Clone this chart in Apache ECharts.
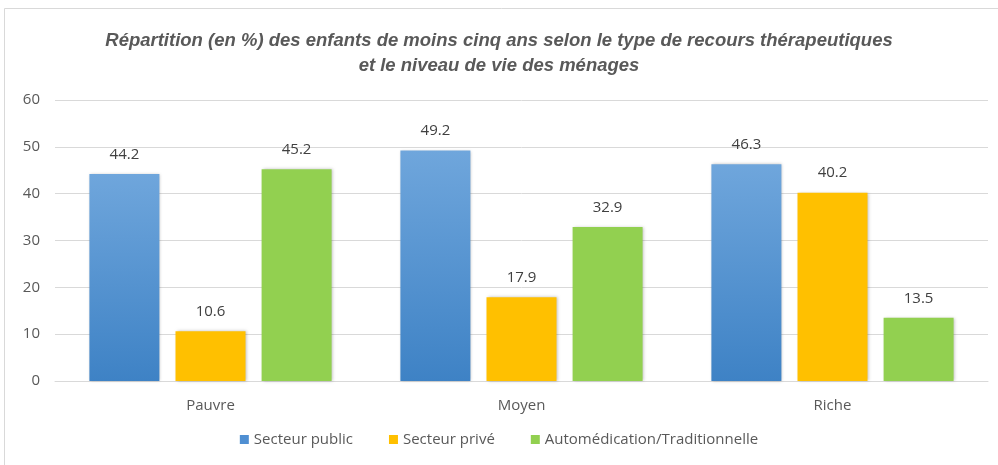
<!DOCTYPE html>
<html>
<head>
<meta charset="utf-8">
<script src="https://cdn.jsdelivr.net/npm/echarts@6/dist/echarts.min.js"></script>
<style>
  html, body { margin: 0; padding: 0; background: #fff; }
  #chart { width: 998px; height: 465px; }
</style>
</head>
<body>
<div id="chart"></div>
<script>
// niveaux de vie
const categories = ['Pauvre', 'Moyen', 'Riche'];
const seriesNames = ['Secteur public', 'Secteur privé', 'Automédication/Traditionnelle'];
const secteurPublic = [44.2, 49.2, 46.3];
const secteurPrive = [10.6, 17.9, 40.2];
const automedication = [45.2, 32.9, 13.5];
const yTicks = [0, 10, 20, 30, 40, 50, 60];

const chart = echarts.init(document.getElementById('chart'));

const blue = new echarts.graphic.LinearGradient(0, 0, 0, 1, [
  { offset: 0, color: '#6fa6dc' },
  { offset: 1, color: '#3e82c5' }
]);

const labelStyle = {
  show: true,
  position: 'top',
  distance: 12,
  color: '#404040',
  fontSize: 15,
  fontFamily: 'Open Sans',
  formatter: p => p.value.toFixed(1)
};

function bar(name, data, color) {
  return {
    name: name,
    type: 'bar',
    data: data,
    barWidth: 70,
    barGap: '23%',
    itemStyle: {
      color: color,
      shadowColor: 'rgba(0,0,0,0.25)',
      shadowBlur: 3,
      shadowOffsetX: 1,
      shadowOffsetY: 0
    },
    label: labelStyle
  };
}

chart.setOption({
  animation: false,
  textStyle: { fontFamily: 'Open Sans' },
  title: {
    text: 'Répartition (en %) des enfants de moins cinq ans selon le type de recours thérapeutiques\net le niveau de vie des ménages',
    left: 'center',
    top: 23,
    textStyle: {
      fontSize: 18.5,
      fontStyle: 'italic',
      fontWeight: 'bold',
      color: '#595959',
      lineHeight: 25,
      fontFamily: 'Liberation Sans'
    }
  },
  graphic: [{
    type: 'rect',
    shape: { x: 4.5, y: 8.5, width: 1000, height: 470 },
    style: { fill: 'none', stroke: '#d9d9d9', lineWidth: 1 },
    silent: true
  }],
  legend: {
    bottom: 13,
    left: 'center',
    itemWidth: 9,
    itemHeight: 9,
    itemGap: 36,
    icon: 'rect',
    textStyle: { fontSize: 15, color: '#595959' },
    data: [
      { name: seriesNames[0], itemStyle: { color: '#4f8fd2' } },
      { name: seriesNames[1] },
      { name: seriesNames[2] }
    ]
  },
  grid: { left: 55, right: 10, top: 100, bottom: 84 },
  xAxis: {
    type: 'category',
    data: categories,
    axisTick: { show: false },
    axisLine: { lineStyle: { color: '#d9d9d9', width: 1 } },
    axisLabel: { fontSize: 15, color: '#595959', margin: 17 }
  },
  yAxis: {
    type: 'value',
    min: yTicks[0],
    max: yTicks[yTicks.length - 1],
    interval: 10,
    axisLine: { show: false },
    axisTick: { show: false },
    splitLine: { lineStyle: { color: '#d9d9d9', width: 1 } },
    axisLabel: { fontSize: 15, color: '#595959', margin: 15 }
  },
  series: [
    bar(seriesNames[0], secteurPublic, blue),
    bar(seriesNames[1], secteurPrive, '#ffc000'),
    bar(seriesNames[2], automedication, '#92d050')
  ]
});
</script>
</body>
</html>
